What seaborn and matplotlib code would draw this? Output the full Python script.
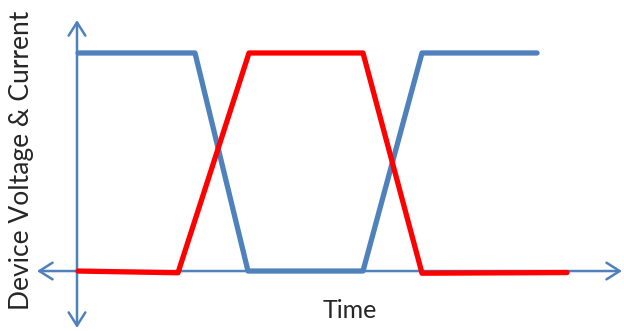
# Device voltage & current switching waveform
import pandas as pd
import matplotlib
matplotlib.use("Agg")
import matplotlib.pyplot as plt
import seaborn as sns

# -------------------------------
# Data
# -------------------------------
blue_time = [1, 118, 171, 286, 345, 460]
blue_level = [1.0, 1.0, 0.0, 0.0, 1.0, 1.0]

red_time = [1, 101, 172, 286, 345, 490]
red_level = [0.0, -0.008, 1.0, 1.0, -0.01, -0.007]

x_label = "Time"
y_label = "Device Voltage & Current"

blue_df = pd.DataFrame({"time": blue_time, "level": blue_level})
red_df = pd.DataFrame({"time": red_time, "level": red_level})

# -------------------------------
# Plot
# -------------------------------
sns.set_style("white")
plt.rcParams["font.family"] = ["Lato", "DejaVu Sans"]

fig = plt.figure(figsize=(6.24, 3.31), dpi=100)
ax = fig.add_axes([0, 0, 1, 1])

axis_col = "#4f81bd"

# axes with open arrow heads on both ends
arrow = dict(arrowstyle="<->,head_length=0.95,head_width=0.6",
             color=axis_col, lw=1.8, shrinkA=0, shrinkB=0)
ax.annotate("", xy=(0, 1.151), xytext=(0, -0.261), arrowprops=arrow)
ax.annotate("", xy=(-40, 0), xytext=(545, 0), arrowprops=arrow)

sns.lineplot(data=blue_df, x="time", y="level", color=axis_col,
             linewidth=3.8, ax=ax, zorder=3)
sns.lineplot(data=red_df, x="time", y="level", color="#ff0000",
             linewidth=3.8, ax=ax, zorder=4)

ax.set_xlim(-77, 547)
ax.set_ylim(-0.275, 1.243)
ax.set_axis_off()

fig.text(350 / 624, 1 - 311 / 331, x_label, fontsize=18,
         ha="center", va="center")
fig.text(22 / 624, 1 - 160 / 331, y_label, fontsize=19, rotation=90,
         ha="center", va="center")

plt.savefig("out.png", dpi=100)
